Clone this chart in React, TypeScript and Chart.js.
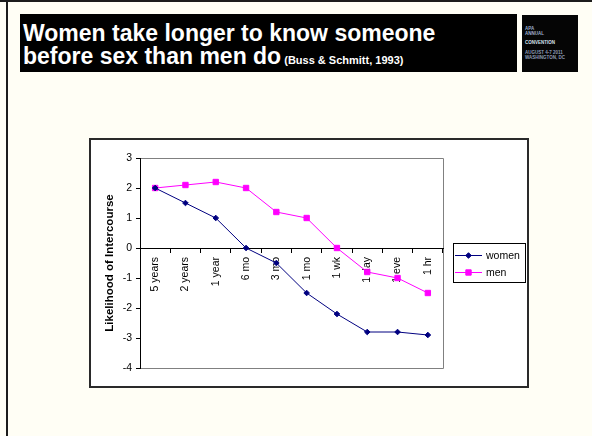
import React, { useEffect, useRef } from 'react';
import { Chart, registerables } from 'chart.js';
import { drawPoint } from 'chart.js/helpers';

Chart.register(...registerables);

const categories = ['5 years', '2 years', '1 year', '6 mo', '3 mo', '1 mo', '1 wk', '1 day', '1 eve', '1 hr'];
const women = [2.0, 1.5, 1.0, 0.0, -0.5, -1.5, -2.2, -2.8, -2.8, -2.9];
const men = [2.0, 2.1, 2.2, 2.0, 1.2, 1.0, 0.0, -0.8, -1.0, -1.5];
const seriesNames = ['women', 'men'];
const yMin = -4;
const yMax = 3;
const yStep = 1;
const yTitle = 'Likelihood of Intercourse';
const titleLine1 = 'Women take longer to know someone';
const titleLine2 = 'before sex than men do';
const citation = '(Buss & Schmitt, 1993)';
const logoLines = ['APA', 'ANNUAL', 'CONVENTION', 'AUGUST 4-7 2011', 'WASHINGTON, DC'];

const FONT = 'Arial, "Liberation Sans", sans-serif';

const plotFrame = {
  id: 'plotFrame',
  beforeDraw(chart: any) {
    const { ctx, chartArea } = chart;
    const { left, right, top, bottom } = chartArea;
    ctx.save();
    ctx.strokeStyle = '#808080';
    ctx.lineWidth = 1;
    ctx.beginPath();
    ctx.moveTo(Math.round(left), Math.round(top) + 0.5);
    ctx.lineTo(Math.round(right) + 0.5, Math.round(top) + 0.5);
    ctx.lineTo(Math.round(right) + 0.5, Math.round(bottom) + 0.5);
    ctx.lineTo(Math.round(left), Math.round(bottom) + 0.5);
    ctx.stroke();
    ctx.restore();
  },
};

const boxLegend = {
  id: 'boxLegend',
  afterDraw(chart: any) {
    const { ctx, chartArea } = chart;
    const x0 = Math.round(chartArea.right) + 10;
    const y0 = 104;
    const w = 72;
    const h = 39;
    ctx.save();
    ctx.fillStyle = '#ffffff';
    ctx.fillRect(x0, y0, w, h);
    ctx.strokeStyle = '#000000';
    ctx.lineWidth = 1;
    ctx.strokeRect(x0 + 0.5, y0 + 0.5, w, h);
    chart.data.datasets.forEach((ds: any, i: number) => {
      const cy = y0 + 12 + i * 17;
      ctx.strokeStyle = ds.borderColor;
      ctx.lineWidth = 1;
      ctx.beginPath();
      ctx.moveTo(x0 + 2, cy + 0.5);
      ctx.lineTo(x0 + 29, cy + 0.5);
      ctx.stroke();
      ctx.fillStyle = ds.pointBackgroundColor;
      ctx.strokeStyle = ds.pointBorderColor;
      drawPoint(ctx, { pointStyle: ds.pointStyle, radius: ds.pointRadius, borderWidth: 1, rotation: 0 } as any, x0 + 15.5, cy + 0.5);
      ctx.fillStyle = '#000000';
      ctx.font = `10.5px ${FONT}`;
      ctx.textBaseline = 'middle';
      ctx.textAlign = 'left';
      ctx.fillText(ds.label, x0 + 33, cy + 1);
    });
    ctx.restore();
  },
};

function ChartCanvas() {
  const ref = useRef<HTMLCanvasElement | null>(null);
  useEffect(() => {
    if (!ref.current) return;
    Chart.defaults.font.family = FONT;
    const chart = new Chart(ref.current, {
      type: 'line',
      data: {
        labels: categories,
        datasets: [
          {
            label: seriesNames[0],
            data: women,
            borderColor: '#000080',
            backgroundColor: '#000080',
            pointBackgroundColor: '#000080',
            pointBorderColor: '#000080',
            pointStyle: 'rectRot',
            pointRadius: 2.8,
            pointBorderWidth: 1,
            borderWidth: 1,
            tension: 0,
            fill: false,
          },
          {
            label: seriesNames[1],
            data: men,
            borderColor: '#FF00FF',
            backgroundColor: '#FF00FF',
            pointBackgroundColor: '#FF00FF',
            pointBorderColor: '#FF00FF',
            pointStyle: 'rect',
            pointRadius: 3.8,
            pointBorderWidth: 1,
            borderWidth: 1,
            tension: 0,
            fill: false,
          },
        ],
      },
      options: {
        animation: false,
        responsive: false,
        maintainAspectRatio: false,
        devicePixelRatio: 1,
        layout: { padding: { left: 0, top: 19, right: 85, bottom: 19 } },
        plugins: {
          legend: { display: false },
          tooltip: { enabled: false },
          title: { display: false },
        },
        scales: {
          x: {
            type: 'category',
            position: { y: 0 } as any,
            offset: true,
            grid: { display: true, drawOnChartArea: false, drawTicks: true, tickLength: 4, color: '#000000', offset: true },
            border: { display: true, color: '#000000', width: 1 },
            ticks: { autoSkip: false, minRotation: 90, maxRotation: 90, padding: 5, color: '#000000', font: { size: 10.5 } },
          },
          y: {
            type: 'linear',
            min: yMin,
            max: yMax,
            ticks: { stepSize: yStep, padding: 4, color: '#000000', font: { size: 10.5 } },
            grid: { drawOnChartArea: false, drawTicks: true, tickLength: 4, color: '#000000' },
            border: { display: true, color: '#000000', width: 1 },
            title: {
              display: true,
              text: yTitle,
              color: '#000000',
              font: { size: 11.5, weight: 'bold' },
              padding: { top: 14, bottom: 0 },
            },
            afterFit: (s: any) => {
              s.width = 51;
            },
          },
        },
      },
      plugins: [plotFrame, boxLegend],
    });
    return () => chart.destroy();
  }, []);
  return (
    <canvas
      ref={ref}
      width={439}
      height={248}
      style={{ position: 'absolute', left: 89, top: 139, width: 439, height: 248 }}
    />
  );
}

export default function App() {
  const logoTops = [11, 16, 25, 35, 40];
  const logoColors = ['#9fb0cc', '#9fb0cc', '#d8e2f0', '#8e9cb6', '#8e9cb6'];
  return (
    <div
      style={{
        position: 'absolute',
        left: 0,
        top: 0,
        width: 592,
        height: 436,
        background: '#fffef5',
        overflow: 'hidden',
        fontFamily: FONT,
      }}
    >
      <div style={{ position: 'absolute', left: 0, top: 0, width: 592, height: 2, background: '#1c1c1c' }} />
      <div style={{ position: 'absolute', left: 6, top: 0, width: 2, height: 436, background: '#1c1c1c' }} />
      <div
        style={{
          position: 'absolute',
          left: 20,
          top: 14,
          width: 497,
          height: 58,
          background: '#000000',
          color: '#ffffff',
          boxSizing: 'border-box',
          paddingLeft: 3,
          paddingTop: 8,
          fontWeight: 'bold',
          fontSize: 23,
          lineHeight: '22.5px',
          whiteSpace: 'nowrap',
        }}
      >
        <div>{titleLine1}</div>
        <div>
          {titleLine2}
          <span style={{ fontSize: 11 }}> {citation}</span>
        </div>
      </div>
      <div style={{ position: 'absolute', left: 522, top: 15, width: 56, height: 57, background: '#050505' }}>
        {logoLines.map((t, i) => (
          <div
            key={t}
            style={{
              position: 'absolute',
              left: 3,
              top: logoTops[i],
              fontSize: 4.5,
              lineHeight: '5px',
              fontWeight: 'bold',
              color: logoColors[i],
              whiteSpace: 'nowrap',
            }}
          >
            {t}
          </div>
        ))}
      </div>
      <div
        style={{
          position: 'absolute',
          left: 89,
          top: 138,
          width: 440,
          height: 250,
          border: '2px solid #2a2a2a',
          background: '#ffffff',
          boxSizing: 'border-box',
        }}
      />
      <ChartCanvas />
    </div>
  );
}
